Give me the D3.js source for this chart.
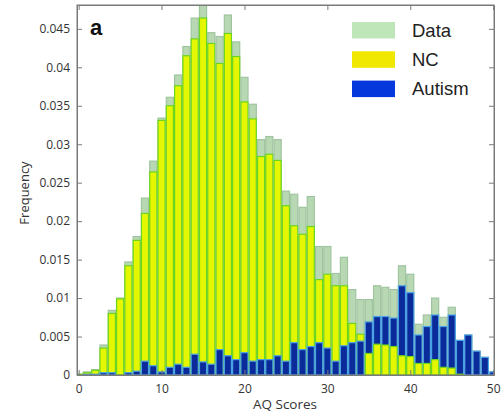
<!DOCTYPE html>
<html>
<head>
<meta charset="utf-8">
<script src="https://cdn.jsdelivr.net/npm/d3@7/dist/d3.min.js"></script>
<style>
  body { margin: 0; background: #fff; }
  text { font-family: "Open Sans", sans-serif; }
</style>
</head>
<body>
<script>
var width = 501, height = 412;

// AQ score bins and the three histograms
var scores = [0,1,2,3,4,5,6,7,8,9,10,11,12,13,14,15,16,17,18,19,20,21,22,23,24,25,
              26,27,28,29,30,31,32,33,34,35,36,37,38,39,40,41,42,43,44,45,46,47,48,49,50];
var dataFreq = [0.0001,0.0004,0.0007,0.0039,0.0084,0.0100,0.0147,0.0180,0.0230,0.0278,
                0.0334,0.0361,0.0390,0.0427,0.0464,0.0485,0.0445,0.0440,0.0468,0.0433,
                0.0387,0.0352,0.0306,0.0310,0.0306,0.0239,0.0235,0.0218,0.0232,0.0167,
                0.0167,0.0132,0.0153,0.0111,0.0098,0.0098,0.0116,0.0114,0.0111,0.0142,
                0.0131,0.0066,0.0078,0.0100,0.0075,0.0088,0.0045,0.0052,0.0031,0.0023,0.0004];
var ncFreq = [0.0001,0.0003,0.0006,0.0035,0.0080,0.0099,0.0142,0.0175,0.0210,0.0264,
              0.0331,0.0350,0.0376,0.0415,0.0437,0.0464,0.0431,0.0405,0.0444,0.0414,
              0.0355,0.0333,0.0284,0.0287,0.0279,0.0220,0.0194,0.0183,0.0193,0.0124,
              0.0131,0.0116,0.0116,0.0067,0.0053,0.0028,0.0040,0.0039,0.0037,0.0025,
              0.0024,0.0015,0.0015,0.0020,0.0010,0.0009,0.0001,0,0,0,0];
var autFreq = [0,0.0001,0.0001,0.0003,0.0003,0,0.0003,0.0005,0.0018,0.0012,
               0.0004,0.0010,0.0014,0.0010,0.0027,0.0017,0.0014,0.0033,0.0025,0.0020,
               0.0029,0.0018,0.0020,0.0020,0.0025,0.0018,0.0042,0.0033,0.0037,0.0042,
               0.0035,0.0018,0.0038,0.0042,0.0044,0.0069,0.0076,0.0076,0.0074,0.0116,
               0.0107,0.0052,0.0063,0.0078,0.0063,0.0078,0.0045,0.0052,0.0031,0.0023,0.0004];

var xTicks = [0,10,20,30,40,50];
var yTicks = [0,0.005,0.01,0.015,0.02,0.025,0.03,0.035,0.04,0.045];
var yTickLabels = ["0","0.005","0.01","0.015","0.02","0.025","0.03","0.035","0.04","0.045"];
var legendNames = ["Data","NC","Autism"];

var style = {
  data: {fill: "#b8d8b4", stroke: "#a0c4a0", legend: "#bfe6b8"},
  nc:   {fill: "#e4f700", stroke: "#6cd61e", legend: "#f0e800"},
  aut:  {fill: "#0b2b9a", stroke: "#4aa2e6", legend: "#0538dc"}
};

var pLeft = 77, pRight = 494, pTop = 5, pBottom = 375;

var x = d3.scaleLinear().domain([-0.2, 50.1]).range([pLeft, pRight]);
var y = d3.scaleLinear().domain([0, 0.0481]).range([pBottom, pTop]);

var svg = d3.select("body")
  .append("svg")
  .attr("width", width)
  .attr("height", height);

svg.append("clipPath")
  .attr("id", "plotclip")
  .append("rect")
  .attr("x", pLeft).attr("y", pTop)
  .attr("width", pRight - pLeft).attr("height", pBottom - pTop);

// one group per bin, taller bars drawn first so the shorter ones stay visible
var bins = scores.map((s, i) => {
  var layers = [
    {key: "data", v: dataFreq[i], order: 0},
    {key: "nc", v: ncFreq[i], order: 1},
    {key: "aut", v: autFreq[i], order: 2}
  ];
  layers.sort((a, b) => (b.v - a.v) || (a.order - b.order));
  return {s: s, layers: layers.filter(l => l.v > 0)};
});

var bw = x(1) - x(0);

svg.append("g")
  .attr("clip-path", "url(#plotclip)")
  .selectAll("g")
  .data(bins)
  .enter()
  .append("g")
  .selectAll("rect")
  .data(d => d.layers.map(l => ({s: d.s, key: l.key, v: l.v})))
  .enter()
  .append("rect")
  .attr("x", d => x(d.s) - bw / 2 + 0.6)
  .attr("y", d => y(d.v))
  .attr("width", bw - 1.2)
  .attr("height", d => y(0) - y(d.v))
  .attr("fill", d => style[d.key].fill)
  .attr("stroke", d => style[d.key].stroke)
  .attr("stroke-width", 1.2);

// axes with inward ticks, box style
var axisColor = "#7a7a7a";

var gx = svg.append("g")
  .attr("transform", "translate(0," + pBottom + ")")
  .call(d3.axisBottom(x).tickValues(xTicks).tickSizeInner(-5).tickSizeOuter(0).tickPadding(9));

var gy = svg.append("g")
  .attr("transform", "translate(" + pLeft + ",0)")
  .call(d3.axisLeft(y).tickValues(yTicks).tickFormat((d, i) => yTickLabels[i])
        .tickSizeInner(-5).tickSizeOuter(0).tickPadding(7));

var gt = svg.append("g")
  .attr("transform", "translate(0," + pTop + ")")
  .call(d3.axisTop(x).tickValues(xTicks).tickFormat("").tickSizeInner(-5).tickSizeOuter(0));

var gr = svg.append("g")
  .attr("transform", "translate(" + pRight + ",0)")
  .call(d3.axisRight(y).tickValues(yTicks).tickFormat("").tickSizeInner(-5).tickSizeOuter(0));

[gx, gy, gt, gr].forEach(g => {
  g.selectAll("path, line").attr("stroke", axisColor);
  g.selectAll("text")
    .attr("fill", "#333")
    .style("font-family", '"Open Sans", sans-serif')
    .style("font-size", "12px");
});

svg.append("rect")
  .attr("x", pLeft).attr("y", pTop)
  .attr("width", pRight - pLeft).attr("height", pBottom - pTop)
  .attr("fill", "none")
  .attr("stroke", axisColor);

// axis titles
svg.append("text")
  .attr("transform", "translate(29," + 193 + ") rotate(-90)")
  .attr("text-anchor", "middle")
  .attr("fill", "#333")
  .style("font-size", "13px")
  .text("Frequency");

svg.append("text")
  .attr("x", 285)
  .attr("y", 409)
  .attr("text-anchor", "middle")
  .attr("fill", "#333")
  .style("font-size", "13.5px")
  .text("AQ Scores");

// panel letter
svg.append("text")
  .attr("x", 90)
  .attr("y", 35)
  .style("font-family", '"Liberation Sans", Arial, sans-serif')
  .style("font-weight", "bold")
  .style("font-size", "22px")
  .attr("fill", "#111")
  .text("a");

// legend
var legendKeys = ["data", "nc", "aut"];
var lg = svg.append("g")
  .selectAll("g")
  .data(legendNames)
  .enter()
  .append("g")
  .attr("transform", (d, i) => "translate(352," + (22 + i * 29.3) + ")");

lg.append("rect")
  .attr("width", 43)
  .attr("height", 16.5)
  .attr("fill", (d, i) => style[legendKeys[i]].legend);

lg.append("text")
  .attr("x", 60)
  .attr("y", 14.8)
  .style("font-family", '"Liberation Sans", Arial, sans-serif')
  .style("font-size", "18.5px")
  .attr("fill", "#222")
  .text(d => d);
</script>
</body>
</html>
